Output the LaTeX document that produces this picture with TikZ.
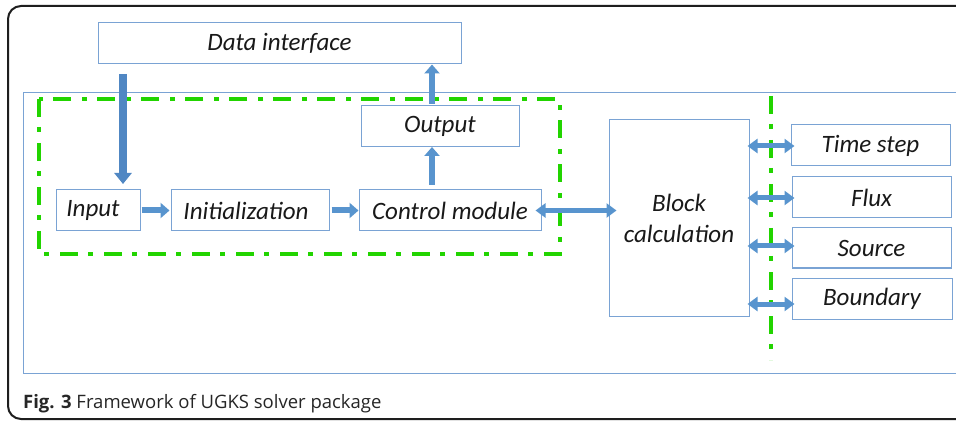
\documentclass[tikz,border=0pt]{standalone}
\usepackage{fontspec}
\setmainfont{Carlito}
\newfontfamily\capfont{Open Sans}
\usetikzlibrary{arrows.meta}
\definecolor{boxblue}{RGB}{122,163,212}
\definecolor{arrblue}{RGB}{88,148,206}
\definecolor{dkblue}{RGB}{80,135,195}
\definecolor{dashgreen}{RGB}{34,212,0}
\definecolor{framegray}{RGB}{30,30,30}
\tikzset{
  box/.style={draw=boxblue, line width=1pt, inner sep=0pt, fill=white,
    font=\fontsize{25}{28}\selectfont\itshape, text=black!90},
  greendash/.style={draw=dashgreen, line width=4pt,
    dash pattern=on 18pt off 10pt on 5pt off 11pt},
  flow/.style={draw=arrblue, line width=6pt,
    -{Triangle[length=9pt,width=15pt]}},
  bigflow/.style={draw=dkblue, line width=7.5pt,
    -{Triangle[length=11pt,width=17pt]}},
  dbl/.style={draw=arrblue, line width=5pt,
    {Triangle[length=10pt,width=14pt]}-{Triangle[length=10pt,width=14pt]}},
}
\begin{document}
\begin{tikzpicture}[x=1pt,y=-1pt]
\useasboundingbox (0,0) rectangle (956,422);
\fill[white] (0,0) rectangle (956,422);

% outer figure frame, cut off at the right edge
\draw[framegray, line width=2pt, rounded corners=13pt] (8,6) rectangle (990,419);

% main panel
\draw[boxblue, line width=1pt] (23,93) rectangle (990,373);

% grouping outlines
\draw[greendash] (39,99) rectangle (560,254);
\draw[greendash] (771,96) -- (771,360);

% boxes
\node[box, minimum width=363pt, minimum height=41pt] (din) at (279.5,43.5) {Data interface};
\node[box, minimum width=84pt,  minimum height=41pt] (inp) at (98,210.5) {\hspace*{-10pt}Input};
\node[box, minimum width=158pt, minimum height=41pt] (ini) at (250,210.5) {\hspace*{-8pt}Initialization};
\node[box, minimum width=182pt, minimum height=41pt] (ctl) at (450,210.5) {Control module};
\node[box, minimum width=158pt, minimum height=41pt] (out) at (440,126.5) {Output};
\node[box, minimum width=140pt, minimum height=196pt, align=center] (blk) at (679,218)
  {Block\\[3pt]calculation};
\node[box, minimum width=159pt, minimum height=41pt] (ts) at (870.5,145.5) {Time step};
\node[box, minimum width=159pt, minimum height=41pt] (fx) at (871.5,197.5) {Flux};
\node[box, minimum width=159pt, minimum height=40pt] (src) at (871.5,248) {Source};
\node[box, minimum width=160pt, minimum height=41pt] (bd) at (872,298.5) {Boundary};

% arrow end points
\coordinate (dinTap) at (123,74);
\coordinate (inpTop) at (123,184);
\coordinate (outTop) at (432,104);
\coordinate (ctlTop) at (432,185);
\coordinate (outLow) at (432,147);

% connectors
\draw[bigflow] (dinTap) -- (inpTop);
\draw[flow] (outTop) -- (din.south -| outTop);
\draw[flow] (ctlTop) -- (outLow);
\draw[flow] ([xshift=1pt]inp.east) -- ([xshift=-1pt]ini.west);
\draw[flow] ([xshift=2pt]ini.east) -- (ctl.west);
\draw[dbl] ([xshift=-6pt]ctl.east) -- ([xshift=8pt]blk.west |- ctl.east);
\draw[dbl] ([xshift=-2pt,yshift=-0.5pt]blk.east |- ts.west) -- ([xshift=4pt,yshift=-0.5pt]ts.west);
\draw[dbl] ([xshift=-2pt,yshift=-0.5pt]blk.east |- fx.west) -- ([xshift=3pt,yshift=-0.5pt]fx.west);
\draw[dbl] ([xshift=-2pt,yshift=2pt]blk.east |- src.west) -- ([xshift=3pt,yshift=2pt]src.west);
\draw[dbl] ([xshift=-2pt,yshift=-5.5pt]blk.east |- bd.west) -- ([xshift=3pt,yshift=-5.5pt]bd.west);

% caption
\node[anchor=base west, inner sep=0pt, font=\capfont\fontsize{18.5}{21}\selectfont, text=black!85] (cap) at (23,408)
  {\textbf{Fig. 3} Framework of UGKS solver package};
\end{tikzpicture}
\end{document}
